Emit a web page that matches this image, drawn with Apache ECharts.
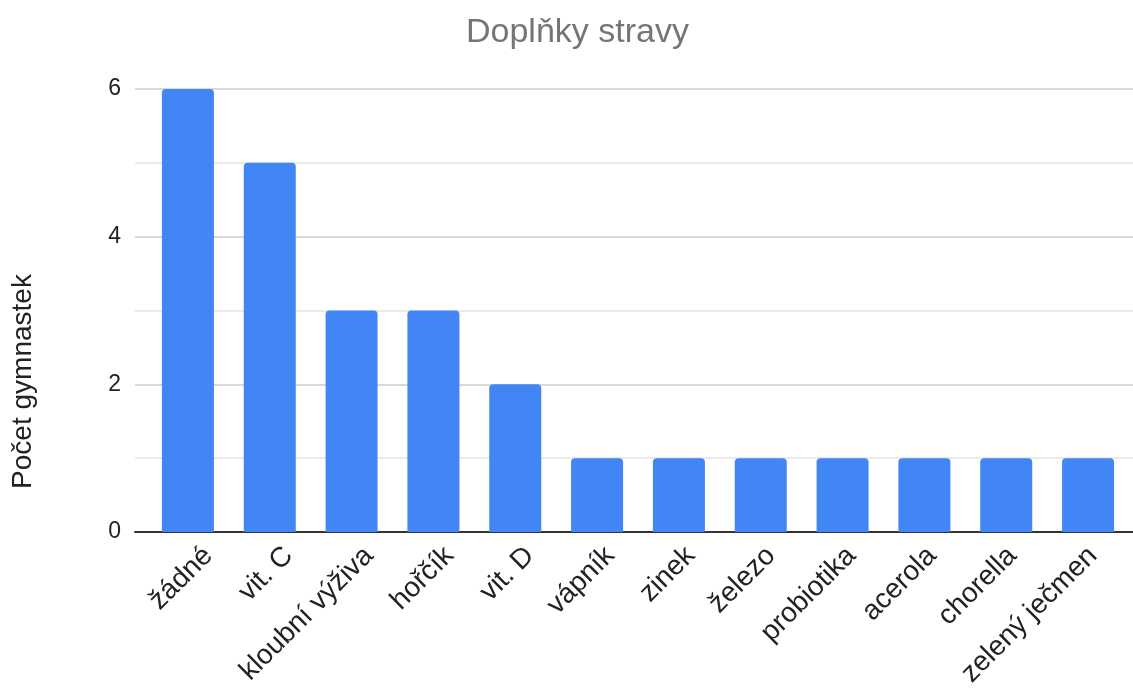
<!DOCTYPE html>
<html>
<head>
<meta charset="utf-8">
<title>Doplňky stravy</title>
<script src="https://cdn.jsdelivr.net/npm/echarts@6/dist/echarts.min.js"></script>
<style>
  html, body { margin: 0; padding: 0; background: #fff; }
  #chart { width: 1133px; height: 690px; }
</style>
</head>
<body>
<div id="chart"></div>
<script>
// Supplements taken by the gymnasts
const categories = ['žádné', 'vit. C', 'kloubní výživa', 'hořčík', 'vit. D', 'vápník',
                    'zinek', 'železo', 'probiotika', 'acerola', 'chorella', 'zelený ječmen'];
const counts = [6, 5, 3, 3, 2, 1, 1, 1, 1, 1, 1, 1];
const yTicks = [0, 2, 4, 6];

const FONT = 'Liberation Sans, Arial, sans-serif';
const yMin = yTicks[0];
const yMax = yTicks[yTicks.length - 1];
const yStep = yTicks[1] - yTicks[0];

const chart = echarts.init(document.getElementById('chart'), null, { renderer: 'canvas' });

chart.setOption({
  backgroundColor: '#ffffff',
  animation: false,
  title: {
    text: 'Doplňky stravy',
    left: 461,
    top: 11,
    textStyle: { fontFamily: FONT, fontSize: 34, fontWeight: 'normal', color: '#757575' }
  },
  grid: [
    // frame: gridlines, y labels and baseline
    { left: 135, right: 0, top: 89, bottom: 158 },
    // bars
    { left: 147, right: 4, top: 89, bottom: 158 },
    // category labels, set a little to the right of the bars
    { left: 168, right: -17, top: 89, bottom: 158 }
  ],
  xAxis: [
    {
      gridIndex: 0, type: 'value', min: 0, max: 1,
      axisLine: { show: true, onZero: false, lineStyle: { color: '#333333', width: 2 } },
      axisTick: { show: false }, axisLabel: { show: false }, splitLine: { show: false }
    },
    {
      gridIndex: 1, type: 'category', data: categories,
      axisLine: { show: false }, axisTick: { show: false }, axisLabel: { show: false }
    },
    {
      gridIndex: 2, type: 'category', data: categories,
      axisLine: { show: false }, axisTick: { show: false },
      axisLabel: {
        interval: 0, rotate: 45, margin: 27,
        fontFamily: FONT, fontSize: 28, color: '#222222'
      }
    }
  ],
  yAxis: [
    {
      gridIndex: 0, type: 'value', min: yMin, max: yMax, interval: yStep,
      name: 'Počet gymnastek', nameLocation: 'middle', nameGap: 98, nameRotate: 90,
      nameTextStyle: {
        fontFamily: FONT, fontSize: 28, color: '#222222',
        padding: [0, 142, 0, 0]
      },
      axisLine: { show: false }, axisTick: { show: false },
      axisLabel: { margin: 14, fontFamily: FONT, fontSize: 23, color: '#222222' },
      splitLine: { show: true, lineStyle: { color: '#cccccc', width: 1.5 } },
      minorTick: { show: false, splitNumber: 2 },
      minorSplitLine: { show: true, lineStyle: { color: '#e3e3e3', width: 1.5 } }
    },
    { gridIndex: 1, type: 'value', min: yMin, max: yMax, show: false },
    { gridIndex: 2, type: 'value', min: yMin, max: yMax, show: false }
  ],
  series: [
    {
      type: 'bar',
      xAxisIndex: 1, yAxisIndex: 1,
      data: counts,
      barWidth: 52,
      itemStyle: { color: '#4285f4', borderRadius: [4, 4, 0, 0] }
    }
  ]
});
</script>
</body>
</html>
